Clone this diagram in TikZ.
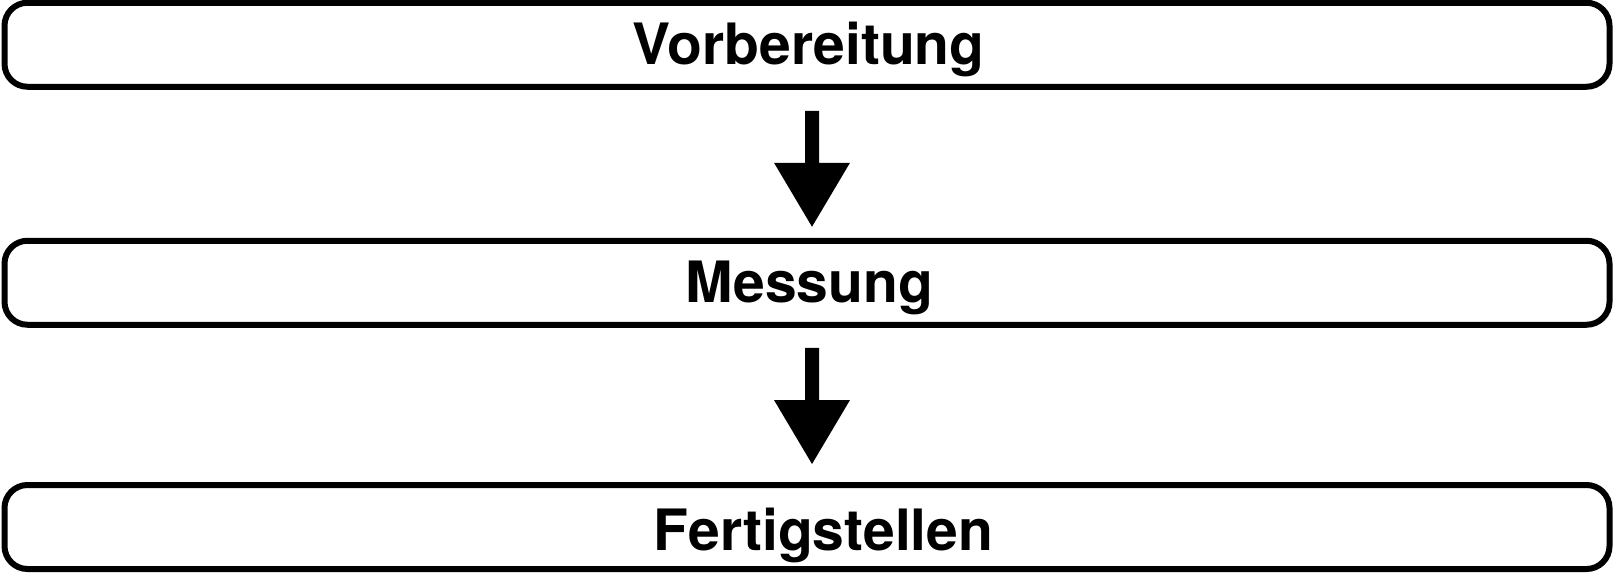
\documentclass[tikz,border=0pt]{standalone}
\usepackage{fontspec}
\setmainfont{TeX Gyre Heros}
\usetikzlibrary{calc}
\tikzset{
  stagebox/.style={draw=black, line width=6pt, rounded corners=23pt, minimum width=1605pt, minimum height=84pt, inner sep=0pt, outer sep=0pt},
  stagelabel/.style={anchor=base, inner sep=0pt, font=\fontsize{57pt}{60pt}\selectfont\bfseries},
}
\newcommand\blockarrowdraw[2]{%
  \fill[black] ($(#1)+(-7,0)$) -- ($(#1)+(7,0)$) -- ($(#2)+(7,-64)$) -- ($(#2)+(38,-64)$) -- (#2) -- ($(#2)+(-38,-64)$) -- ($(#2)+(-7,-64)$) -- cycle;}
\begin{document}
\begin{tikzpicture}[x=1pt,y=-1pt]
\useasboundingbox (0,0) rectangle (1616,581);
\node[stagebox] (b1) at (807,44.75) {};
\node[stagebox] (b2) at (807,282.75) {};
\node[stagebox] (b3) at (807,527) {};
\node[stagelabel] (l1) at ($(b1.center)+(1.5,20)$) {Vorbereitung};
\node[stagelabel] (l2) at ($(b2.center)+(2.5,20)$) {Messung};
\node[stagelabel] (l3) at ($(b3.center)+(16.5,23)$) {Fertigstellen};
\coordinate (a1s) at ($(b1.south)+(5,24)$);
\coordinate (a1t) at ($(b2.north)+(5,-14)$);
\coordinate (a2s) at ($(b2.south)+(5,23)$);
\coordinate (a2t) at ($(b3.north)+(5,-21)$);
\blockarrowdraw{a1s}{a1t}
\blockarrowdraw{a2s}{a2t}
\end{tikzpicture}
\end{document}
